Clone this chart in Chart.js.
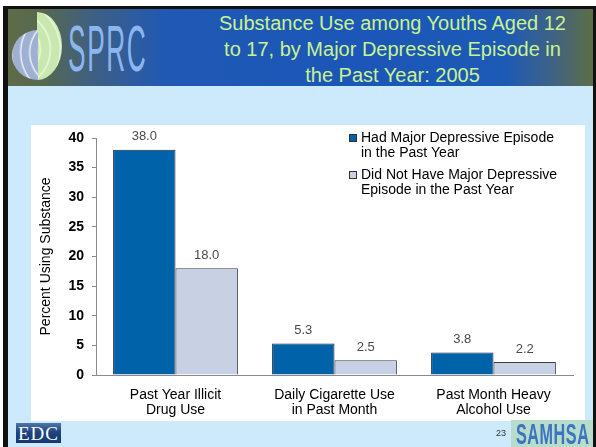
<!DOCTYPE html>
<html>
<head>
<meta charset="utf-8">
<script src="https://cdn.jsdelivr.net/npm/chart.js@4.4.1/dist/chart.umd.min.js"></script>
<style>
  html, body { margin:0; padding:0; width:596px; height:447px; overflow:hidden; background:#fff; font-family:"Liberation Sans", Arial, sans-serif; }
  #frame { position:absolute; left:3px; top:6px; width:593px; height:441px; background:#111; }
  #slide { position:absolute; left:8px; top:9px; width:585px; height:438px; background:#cdeafc; }
  #header { position:absolute; left:8px; top:9px; width:585px; height:77px;
    background:linear-gradient(to right, #5f6c49 0%, #56684f 6%, #3d5f86 15%, #2059b4 27%, #1b56b8 60%, #1d5ab6 85%, #3f6285 93%, #5d6d45 100%); }
  #title { position:absolute; left:200px; top:10px; width:385px; text-align:center; color:#c9f28f; font-size:20px; line-height:26px; font-family:"Liberation Sans", Arial, sans-serif; }
  #logoL { position:absolute; left:12px; top:30px; width:52px; height:50px; border-radius:50%;
    background:repeating-radial-gradient(circle at 100% 45%, #9fb0d2 0px, #9fb0d2 6px, #e8eef8 7px, #9fb0d2 9px);
    clip-path: inset(0 50% 0 0); }
  #logoR { position:absolute; left:12px; top:12px; width:50px; height:68px; border-radius:50%;
    background:repeating-radial-gradient(circle at 0% 55%, #c9e8b0 0px, #c9e8b0 7px, #eaf7dc 8px, #c9e8b0 10px);
    clip-path: inset(0 0 0 50%); }
  #sprc { position:absolute; left:68px; top:17px; font-family:"Liberation Sans Narrow","Liberation Sans",sans-serif; font-size:64px; line-height:64px; color:#8db6ef; letter-spacing:4px; transform:scaleX(0.41); transform-origin:0 0; }
  #panel { position:absolute; left:31px; top:125px; width:554px; height:296px; background:#fff; }
  #chartwrap { position:absolute; left:0; top:0; width:554px; height:296px; }
  #edc { position:absolute; left:16px; top:423px; width:45px; height:20px; background:linear-gradient(to bottom, #4f77a8 0%, #1f4580 45%, #15386e 100%); color:#fff; font-family:"Liberation Serif", serif; font-size:19px; line-height:21px; text-align:center; letter-spacing:1px; }
  #pnum { position:absolute; left:496px; top:428px; font-size:9px; color:#333; }
  #samhsa { position:absolute; left:511px; top:420px; width:82px; height:27px; background:#b8dccb; }
  #samhsaT { position:absolute; left:516px; top:419px; font-family:"Liberation Sans Narrow","Liberation Sans",sans-serif; font-weight:bold; font-size:30px; line-height:30px; color:#3b74bf; letter-spacing:1px; transform:scaleX(0.54); transform-origin:0 0; }
</style>
</head>
<body>
<div id="frame"></div>
<div id="slide"></div>
<div id="header"></div>
<div id="logoR"></div>
<div id="logoL"></div>
<div id="sprc">SPRC</div>
<div id="title">Substance Use among Youths Aged 12<br>to 17, by Major Depressive Episode in<br>the Past Year: 2005</div>
<div id="panel"><div id="chartwrap"><canvas id="c" width="554" height="296"></canvas></div></div>
<div id="edc">EDC</div>
<div id="pnum">23</div>
<div id="samhsa"></div>
<div id="samhsaT">SAMHSA</div>
<script>
const categories = [["Past Year Illicit", "Drug Use"], ["Daily Cigarette Use", "in Past Month"], ["Past Month Heavy", "Alcohol Use"]];
const seriesNames = [["Had Major Depressive Episode", "in the Past Year"], ["Did Not Have Major Depressive", "Episode in the Past Year"]];
const hadMDE = [38.0, 5.3, 3.8];
const noMDE = [18.0, 2.5, 2.2];
const yTicks = [0, 5, 10, 15, 20, 25, 30, 35, 40];

const valueLabels = {
  id: 'valueLabels',
  afterDatasetsDraw(chart) {
    const ctx = chart.ctx;
    ctx.save();
    ctx.font = '13px "Liberation Sans", Arial, sans-serif';
    ctx.fillStyle = '#4a4a4a';
    ctx.textAlign = 'center';
    ctx.textBaseline = 'middle';
    chart.data.datasets.forEach((ds, i) => {
      const meta = chart.getDatasetMeta(i);
      meta.data.forEach((bar, j) => {
        ctx.fillText(ds.data[j].toFixed(1), bar.x, bar.y - 13);
      });
    });
    ctx.restore();
  }
};

const boxLegend = {
  id: 'boxLegend',
  afterDraw(chart) {
    const ctx = chart.ctx;
    ctx.save();
    ctx.font = '14px "Liberation Sans", Arial, sans-serif';
    ctx.textBaseline = 'middle';
    ctx.textAlign = 'left';
    const x0 = 318, tx = 330;
    const starts = [13, 50];
    chart.data.datasets.forEach((ds, i) => {
      const y = starts[i];
      ctx.fillStyle = ds.backgroundColor;
      ctx.fillRect(x0, y - 4, 8, 8);
      ctx.strokeStyle = '#333';
      ctx.lineWidth = 1;
      ctx.strokeRect(x0 + 0.5, y - 3.5, 7, 7);
      ctx.fillStyle = '#000';
      ds.label.forEach((line, k) => ctx.fillText(line, tx, y + k * 15.5));
    });
    ctx.restore();
  }
};

new Chart(document.getElementById('c'), {
  type: 'bar',
  data: {
    labels: categories,
    datasets: [
      { label: seriesNames[0], data: hadMDE, backgroundColor: '#0062a8', borderColor: '#1c2a3a', borderWidth: 1 },
      { label: seriesNames[1], data: noMDE, backgroundColor: '#c8d1e3', borderColor: '#3a3f4a', borderWidth: 1 }
    ]
  },
  options: {
    responsive: false,
    animation: false,
    events: [],
    layout: { padding: { top: 13, right: 12, left: 0, bottom: 0 } },
    datasets: { bar: { categoryPercentage: 0.785, barPercentage: 1.0 } },
    plugins: { legend: { display: false }, tooltip: { enabled: false }, title: { display: false } },
    scales: {
      x: {
        grid: { display: false, drawTicks: false },
        border: { display: true, color: '#8a8a8a', width: 1 },
        ticks: { color: '#000', padding: 12, font: { size: 14, family: '"Liberation Sans", Arial, sans-serif', lineHeight: 1.1 }, maxRotation: 0, autoSkip: false },
        afterFit(scale) { scale.height = 46; }
      },
      y: {
        min: 0, max: 40,
        afterBuildTicks(scale) { scale.ticks = yTicks.map(v => ({ value: v })); },
        grid: { drawOnChartArea: false, drawTicks: true, tickLength: 4, color: '#8a8a8a' },
        border: { display: true, color: '#8a8a8a', width: 1 },
        ticks: { color: '#000', padding: 8, font: { size: 14, weight: 'bold', family: '"Liberation Sans", Arial, sans-serif', lineHeight: 0.7 } },
        title: { display: true, text: 'Percent Using Substance', color: '#000', padding: { top: 7, bottom: 0 }, font: { size: 14, family: '"Liberation Sans", Arial, sans-serif', lineHeight: 1.2 } },
        afterFit(scale) { scale.width = 65; }
      }
    }
  },
  plugins: [valueLabels, boxLegend]
});
</script>
</body>
</html>
